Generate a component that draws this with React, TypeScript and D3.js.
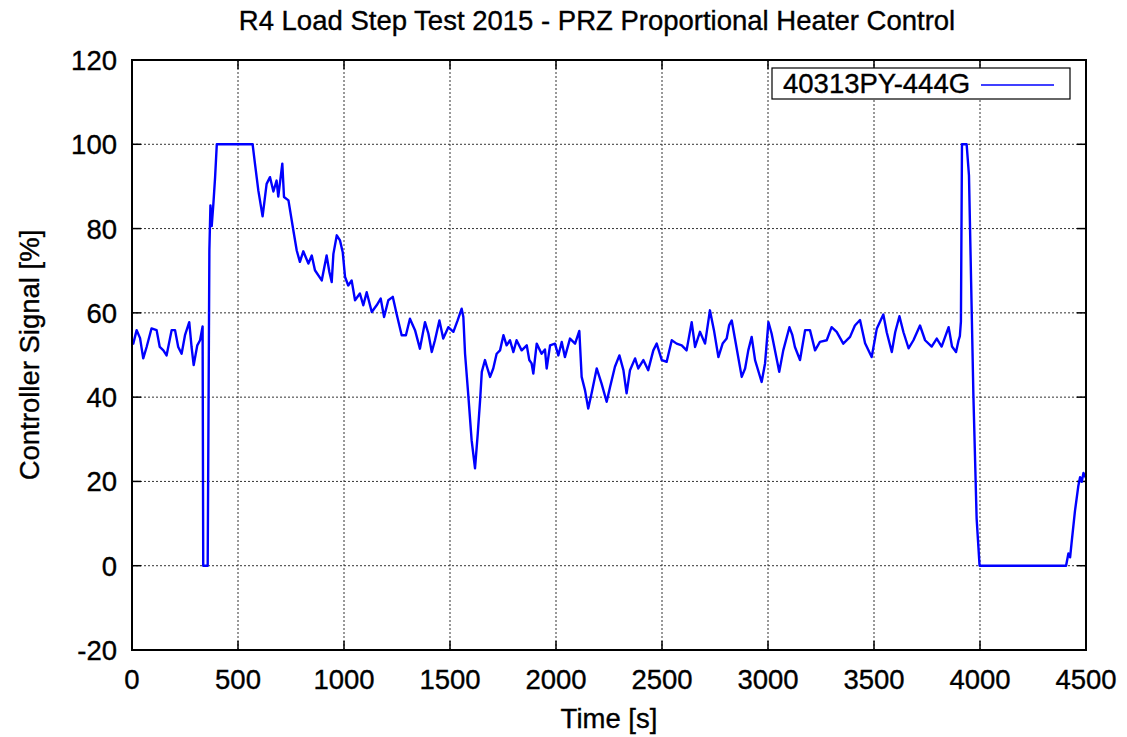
import React from "react";
import * as d3 from "d3";

const TIME = [0,6,22,38,53,69,92,116,131,148,163,187,203,218,234,250,270,281,291,308,321,333,336,357,365,370,376,384,392,400,450,500,569,580,596,616,635,651,667,682,690,709,717,738,761,777,792,808,832,848,863,895,918,931,942,950,966,981,994,1005,1020,1036,1052,1075,1091,1107,1131,1154,1173,1189,1209,1230,1248,1272,1292,1311,1335,1358,1382,1398,1414,1429,1450,1468,1492,1516,1536,1555,1563,1571,1587,1602,1618,1631,1642,1650,1665,1673,1689,1704,1720,1736,1752,1767,1783,1799,1814,1838,1862,1874,1885,1893,1909,1932,1948,1956,1972,1995,2011,2027,2042,2066,2090,2110,2121,2137,2152,2168,2192,2215,2239,2255,2278,2299,2318,2333,2349,2373,2388,2412,2435,2459,2475,2499,2522,2546,2569,2593,2616,2640,2656,2679,2703,2726,2745,2766,2786,2805,2817,2829,2844,2876,2892,2907,2923,2939,2970,2986,3002,3017,3053,3072,3101,3115,3127,3151,3175,3198,3222,3245,3277,3300,3324,3355,3387,3410,3434,3458,3489,3513,3544,3560,3584,3600,3620,3639,3663,3686,3717,3741,3772,3796,3819,3852,3868,3887,3899,3905,3910,3915,3937,3948,3969,3984,3998,4406,4417,4425,4432,4448,4464,4472,4480,4488,4500];

const SIGNAL = [52.5,52.7,55.9,54,49.2,51.9,56.3,55.9,51.9,51.1,49.9,55.9,55.9,51.9,50.3,54.7,57.8,51.9,47.6,52.3,53.5,56.8,0,0,75,85.5,80.6,86,92.2,100,100,100,100,95.4,89,82.9,90.6,92.2,88.8,91.4,87.6,95.4,87.5,86.7,79.6,74.8,72.1,74.6,71.7,73.6,70.1,67.7,73.6,69.7,67.3,74,78.4,77.2,74.4,68.5,66.5,67.7,63,64.6,61.8,64.9,60.2,61.8,63.4,59,63,63.8,59.8,54.7,54.7,58.6,55.9,51.5,57.8,55.1,50.7,53.5,58.2,53.9,56.6,55.5,58.2,61,59,50.3,40,29.8,23.1,31.4,39.3,46,48.8,47.4,44.8,46.8,50.3,51.1,54.7,52.3,53.5,50.7,53.5,51.1,52.3,48.8,48,45.6,52.7,50.3,51.3,46.8,52.3,52.7,49.9,53.1,49.5,53.9,52.7,55.7,44.8,41.6,37.3,40.9,46.8,43.2,38.9,42.4,47.2,49.9,46.4,40.9,46.4,49.2,46.8,48.8,46.4,51.1,52.7,48.8,48.4,53.5,52.7,52.3,51.1,57.8,51.9,55.5,52.7,60.6,55.9,49.5,52.7,53.9,57.1,58.2,53.9,44.8,46.8,51.1,54.3,48.8,43.6,48,57.8,55.1,46,51.1,56.6,54.7,51.9,48.8,55.9,55.9,51.1,53.1,53.5,56.6,55.5,52.7,54.3,57,58.3,52.8,49.5,56.2,59.6,55.4,50.7,55.4,59.2,55.4,51.6,53.5,57,53.5,52,53.9,52,56.6,52,50.7,53.5,54.5,57.9,100,100,92.6,40.1,11.3,0,0,2.9,2,5.4,13,19,21,19.9,22,20.8];

const X_TICKS = [0,500,1000,1500,2000,2500,3000,3500,4000,4500];
const Y_TICKS = [-20,0,20,40,60,80,100,120];
const TITLE = "R4 Load Step Test 2015 - PRZ Proportional Heater Control";
const X_LABEL = "Time [s]";
const Y_LABEL = "Controller Signal [%]";
const SERIES_NAME = "40313PY-444G";

const W = 1127, H = 737;
const L = 132, R = 1086, T = 60, B = 650;
const FONT = "'Liberation Sans', Arial, Helvetica, sans-serif";
const FS = 27.5;

export default function App() {
  const x = d3.scaleLinear().domain([0, 4500]).range([L, R]);
  const y = d3.scaleLinear().domain([-20, 120]).range([B, T]);
  const data = TIME.map((t, i) => [t, SIGNAL[i]] as [number, number]);
  const line = d3.line<[number, number]>().x(d => x(d[0])).y(d => y(d[1]));
  const tl = 9;
  const txt = { fill: "#000", stroke: "#000", strokeWidth: 0.35, fontSize: FS };
  return (
    <svg width={W} height={H} style={{ position: "absolute", left: 0, top: 0, background: "#fff" }} fontFamily={FONT}>
      <rect x={0} y={0} width={W} height={H} fill="#fff" />
      {X_TICKS.slice(1, -1).map(t => (
        <line key={"gx" + t} x1={x(t)} x2={x(t)} y1={T} y2={B} stroke="#333" strokeWidth={1} strokeDasharray="2,2" />
      ))}
      {Y_TICKS.slice(1, -1).map(v => (
        <line key={"gy" + v} x1={L} x2={R} y1={y(v)} y2={y(v)} stroke="#333" strokeWidth={1} strokeDasharray="2,2" />
      ))}
      {X_TICKS.map(t => (
        <g key={"tx" + t}>
          <line x1={x(t)} x2={x(t)} y1={B} y2={B - tl} stroke="#000" strokeWidth={1.5} />
          <line x1={x(t)} x2={x(t)} y1={T} y2={T + tl} stroke="#000" strokeWidth={1.5} />
          <text x={x(t)} y={689} textAnchor="middle" {...txt}>{t}</text>
        </g>
      ))}
      {Y_TICKS.map(v => (
        <g key={"ty" + v}>
          <line x1={L} x2={L + tl} y1={y(v)} y2={y(v)} stroke="#000" strokeWidth={1.5} />
          <line x1={R} x2={R - tl} y1={y(v)} y2={y(v)} stroke="#000" strokeWidth={1.5} />
          <text x={117} y={y(v) + 10} textAnchor="end" {...txt}>{v}</text>
        </g>
      ))}
      <path d={line(data) || ""} fill="none" stroke="#0000ff" strokeWidth={2.4} strokeLinejoin="round" />
      <rect x={L} y={T} width={R - L} height={B - T} fill="none" stroke="#000" strokeWidth={2} />
      <rect x={772} y={68} width={298} height={31} fill="#fff" stroke="#000" strokeWidth={1.2} />
      <text x={783} y={93} {...txt}>{SERIES_NAME}</text>
      <line x1={981} x2={1054} y1={85} y2={85} stroke="#0000ff" strokeWidth={1.3} />
      <text x={597} y={30} textAnchor="middle" {...txt}>{TITLE}</text>
      <text x={609} y={728} textAnchor="middle" {...txt}>{X_LABEL}</text>
      <text transform={`translate(39,355) rotate(-90)`} textAnchor="middle" {...txt}>{Y_LABEL}</text>
    </svg>
  );
}
